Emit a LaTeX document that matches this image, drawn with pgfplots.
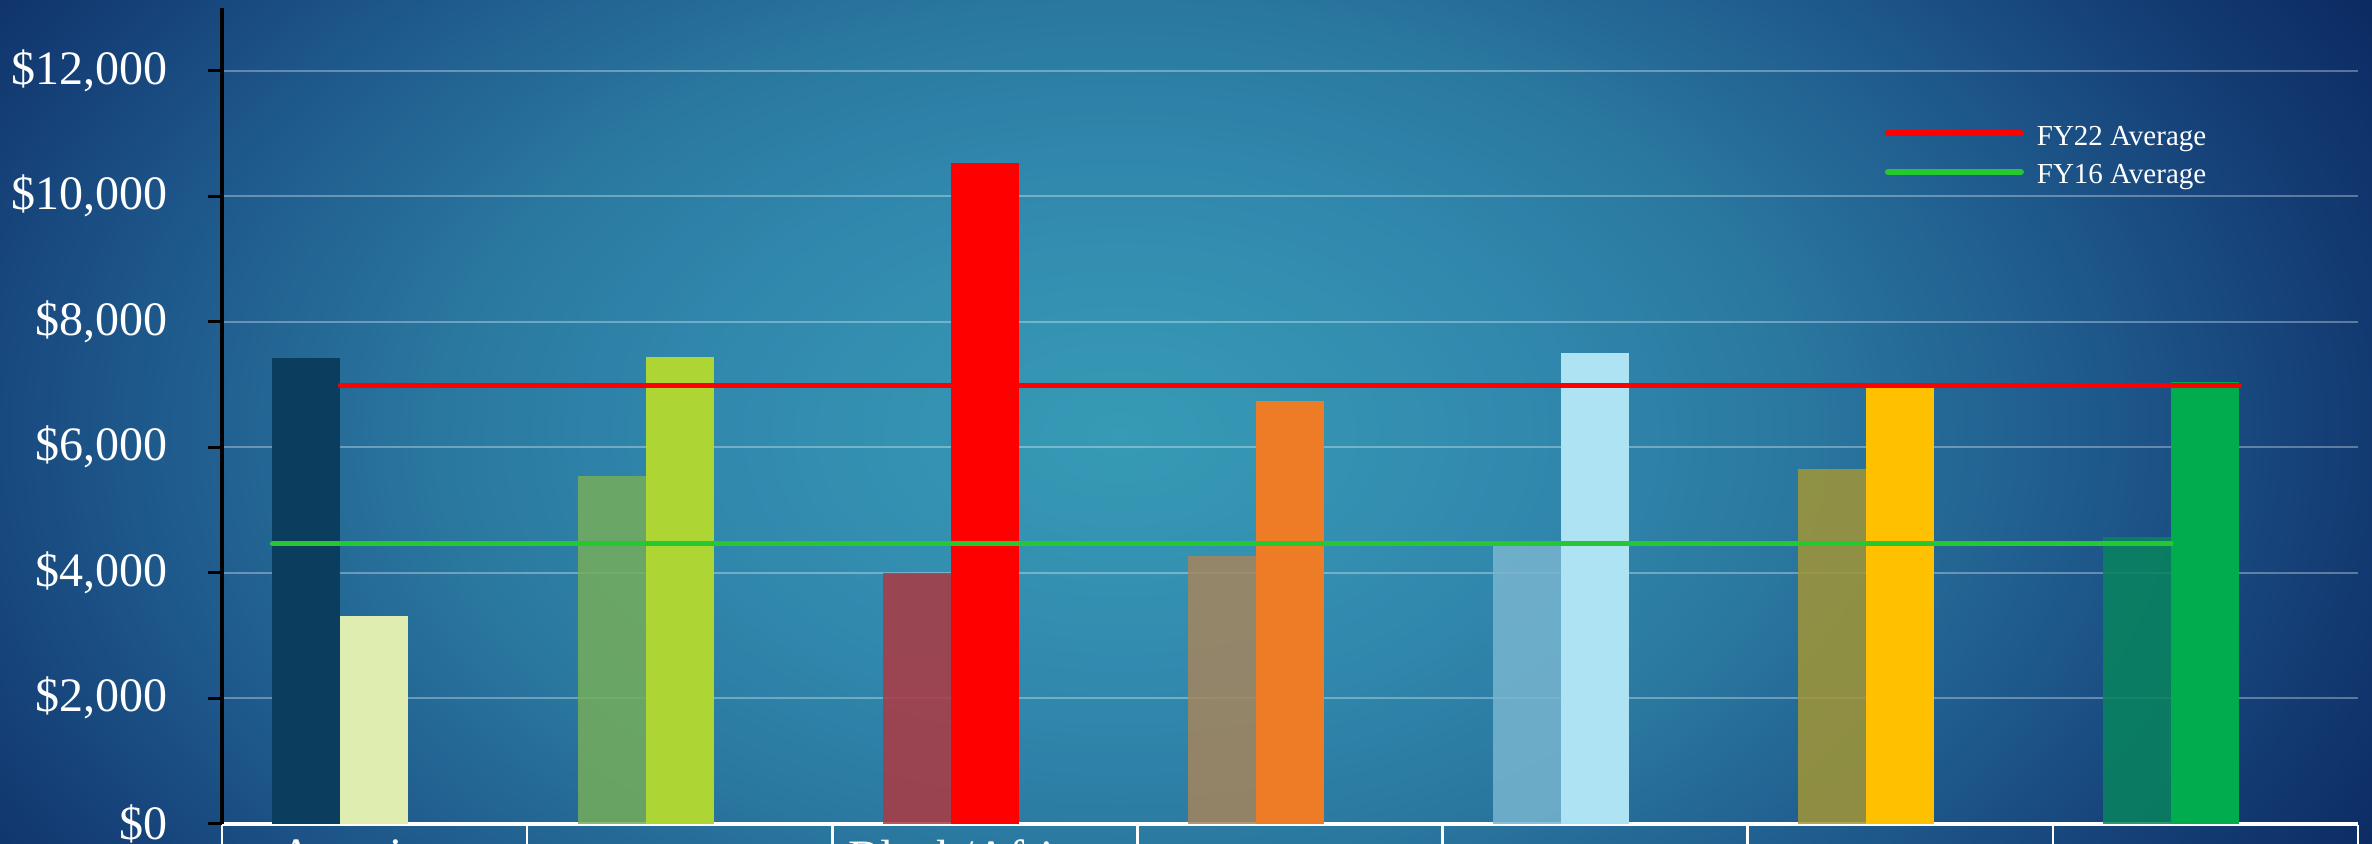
\documentclass[border=0pt]{standalone}
\usepackage{fontspec}
\setmainfont{Liberation Serif}
\usepackage{pgfplots}
\pgfplotsset{compat=1.18}
\definecolor{bg0}{HTML}{379BB5}
\definecolor{bg1}{HTML}{3189AE}
\definecolor{bg2}{HTML}{2A78A0}
\definecolor{bg3}{HTML}{1D5589}
\definecolor{bg4}{HTML}{143E75}
\definecolor{bg5}{HTML}{0C2B63}
\pgfdeclareradialshading{bgshade}{\pgfpoint{0bp}{0bp}}{color(0bp)=(bg0); color(7.5bp)=(bg1); color(12.5bp)=(bg2); color(18.75bp)=(bg3); color(22.5bp)=(bg4); color(26.25bp)=(bg5); color(50bp)=(bg5)}
\definecolor{a1}{HTML}{0B3E5E}\definecolor{b1}{HTML}{DFEEB0}
\definecolor{a2}{HTML}{75AD5B}\definecolor{b2}{HTML}{ADD533}
\definecolor{a3}{HTML}{AD3A42}\definecolor{b3}{HTML}{FF0000}
\definecolor{a4}{HTML}{A5855D}\definecolor{b4}{HTML}{EE7B25}
\definecolor{a5}{HTML}{78B5CF}\definecolor{b5}{HTML}{AEE3F4}
\definecolor{a6}{HTML}{A29636}\definecolor{b6}{HTML}{FFC000}
\definecolor{a7}{HTML}{08855E}\definecolor{b7}{HTML}{00AC4E}
\definecolor{avgred}{HTML}{FF0000}
\definecolor{avggreen}{HTML}{26C832}
\newcommand{\bigfont}{\fontsize{13.66}{15.7}\selectfont}
\newcommand{\smallfont}{\fontsize{8.25}{9.5}\selectfont}
\begin{document}
\begin{tikzpicture}
\useasboundingbox (0,0) rectangle (23.72,8.44);
\clip (0,0) rectangle (23.72,8.44);
\shade[shading=bgshade] (-2.3,-4.4) rectangle (24.7,12.6);
\begin{axis}[
  at={(2.22cm,0.203cm)}, anchor=south west,
  scale only axis, width=21.36cm, height=8.157cm,
  xmin=-0.388, xmax=6.612, ymin=0, ymax=13000,
  axis x line*=bottom, axis y line*=left,
  x axis line style={white, line width=0.8pt},
  y axis line style={black, line width=0.9pt},
  ytick={0,2000,4000,6000,8000,10000,12000},
  ytick style={black, line width=0.9pt},
  major tick length=0.14cm, tick align=outside,
  ymajorgrids, grid style={white, opacity=0.32, line width=0.6pt},
  xtick={0.112,1.112,2.112,3.112,4.112,5.112,6.112},
  xticklabels={{American\\Indian/Alaska Native},{\strut\\Asian},{Black/African\\American},{\strut\\Hispanic},{\strut\\White},{\strut\\Multiracial},{\strut\\Unknown}},
  xtick style={draw=none},
  xticklabel style={text=white, font=\bigfont, align=center, anchor=north, inner sep=0pt, yshift=-0.013cm},
  scaled y ticks=false,
  yticklabel={\$\pgfmathprintnumber[fixed,precision=0,1000 sep={,}]{\tick}},
  /pgf/number format/assume math mode=true,
  yticklabel style={text=white, font=\bigfont, anchor=east, inner sep=0pt, xshift=-0.40cm},
  legend style={draw=none, fill=none, at={(0.7785,0.8639)}, anchor=north west, inner sep=0pt, outer sep=0pt, column sep=0.06cm, row sep=0pt, font=\smallfont, text=white},
  legend cell align=left,
  legend image code/.code={\draw[#1, line width=1.7pt] (0cm,0.05cm) -- (1.33cm,0.05cm); \path (0cm,-0.05cm);},
]
% first bars of each group
\addplot[ybar, bar width=0.68cm, bar shift=-0.34cm, fill=a1, draw=none, forget plot] coordinates {(0,7421)};
\addplot[ybar, bar width=0.68cm, bar shift=-0.34cm, fill=a2, fill opacity=0.85, draw=none, forget plot] coordinates {(1,5541)};
\addplot[ybar, bar width=0.68cm, bar shift=-0.34cm, fill=a3, fill opacity=0.85, draw=none, forget plot] coordinates {(2,3990)};
\addplot[ybar, bar width=0.68cm, bar shift=-0.34cm, fill=a4, fill opacity=0.85, draw=none, forget plot] coordinates {(3,4266)};
\addplot[ybar, bar width=0.68cm, bar shift=-0.34cm, fill=a5, fill opacity=0.85, draw=none, forget plot] coordinates {(4,4420)};
\addplot[ybar, bar width=0.68cm, bar shift=-0.34cm, fill=a6, fill opacity=0.85, draw=none, forget plot] coordinates {(5,5653)};
\addplot[ybar, bar width=0.68cm, bar shift=-0.34cm, fill=a7, fill opacity=0.85, draw=none, forget plot] coordinates {(6,4569)};
% second bars of each group
\addplot[ybar, bar width=0.68cm, bar shift=0.34cm, fill=b1, draw=none, forget plot] coordinates {(0,3315)};
\addplot[ybar, bar width=0.68cm, bar shift=0.34cm, fill=b2, draw=none, forget plot] coordinates {(1,7437)};
\addplot[ybar, bar width=0.68cm, bar shift=0.34cm, fill=b3, draw=none, forget plot] coordinates {(2,10529)};
\addplot[ybar, bar width=0.68cm, bar shift=0.34cm, fill=b4, draw=none, forget plot] coordinates {(3,6736)};
\addplot[ybar, bar width=0.68cm, bar shift=0.34cm, fill=b5, draw=none, forget plot] coordinates {(4,7501)};
\addplot[ybar, bar width=0.68cm, bar shift=0.34cm, fill=b6, draw=none, forget plot] coordinates {(5,6943)};
\addplot[ybar, bar width=0.68cm, bar shift=0.34cm, fill=b7, draw=none, forget plot] coordinates {(6,7039)};
% averages
\addplot[avgred, line width=1.4pt, line cap=round, mark=none] coordinates {(0,6985) (6.223,6985)};
\addlegendentry{FY22 Average}
\addplot[avggreen, line width=1.4pt, line cap=round, mark=none] coordinates {(-0.223,4462) (6,4462)};
\addlegendentry{FY16 Average}
\end{axis}
\draw[white, line width=0.8pt] (2.22,0.19) -- (23.58,0.19);
\foreach \k in {0,...,7} {
  \draw[white, line width=0.7pt] ({2.22+3.0514*\k},0.19) -- ({2.22+3.0514*\k},-0.5);
}
\end{tikzpicture}
\end{document}
